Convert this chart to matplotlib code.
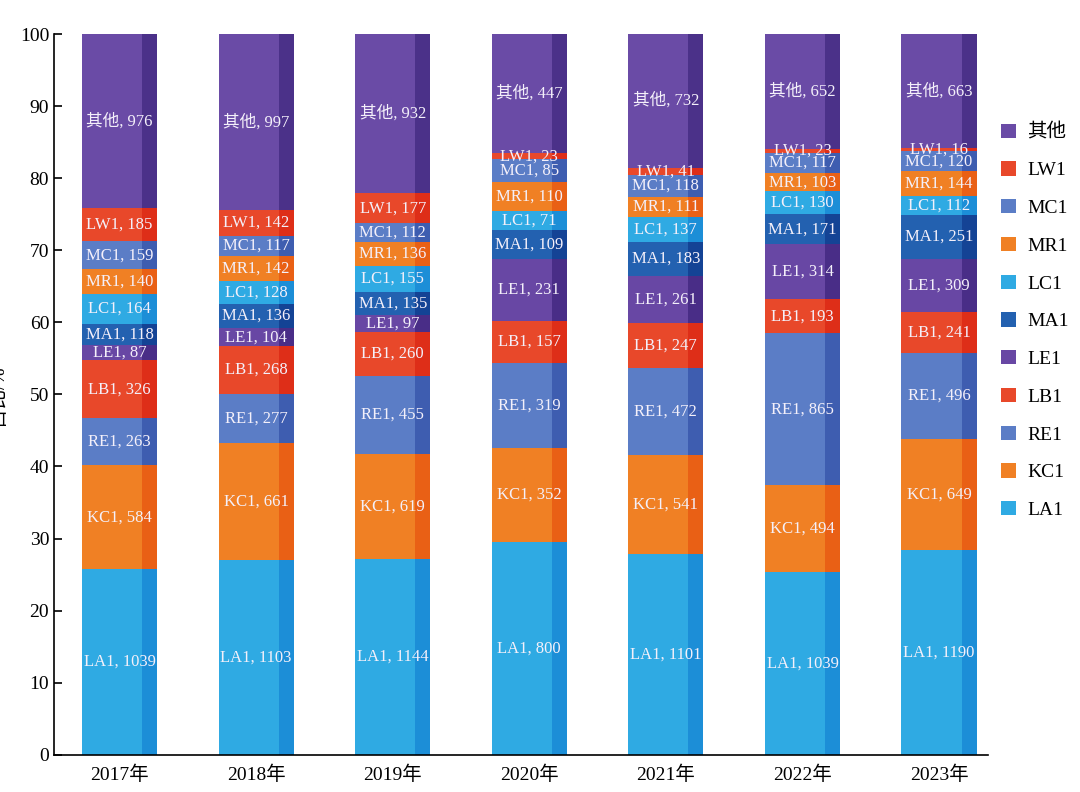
import matplotlib.pyplot as plt
import matplotlib.colors as mcolors
import numpy as np

plt.rcParams['font.family'] = ['Liberation Serif', 'Noto Sans CJK SC']

years = ['2017年', '2018年', '2019年', '2020年', '2021年', '2022年', '2023年']
cats = ['LA1', 'KC1', 'RE1', 'LB1', 'LE1', 'MA1', 'LC1', 'MR1', 'MC1', 'LW1', '其他']

LA1 = [1039, 1103, 1144, 800, 1101, 1039, 1190]
KC1 = [584, 661, 619, 352, 541, 494, 649]
RE1 = [263, 277, 455, 319, 472, 865, 496]
LB1 = [326, 268, 260, 157, 247, 193, 241]
LE1 = [87, 104, 97, 231, 261, 314, 309]
MA1 = [118, 136, 135, 109, 183, 171, 251]
LC1 = [164, 128, 155, 71, 137, 130, 112]
MR1 = [140, 142, 136, 110, 111, 103, 144]
MC1 = [159, 117, 112, 85, 118, 117, 120]
LW1 = [185, 142, 177, 23, 41, 23, 16]
other = [976, 997, 932, 447, 732, 652, 663]

counts = np.array([LA1, KC1, RE1, LB1, LE1, MA1, LC1, MR1, MC1, LW1, other], dtype=float)
colors = ['#2FAAE3', '#F08024', '#5B7DC6', '#E8482A', '#6847A4', '#2361B0',
          '#2FAAE3', '#F08024', '#5B7DC6', '#E8482A', '#6A4BA6']

pct = counts / counts.sum(axis=0) * 100

fig, ax = plt.subplots(figsize=(10.8, 7.92), dpi=100)
fig.subplots_adjust(left=0.05, right=0.915, top=0.957, bottom=0.047)

x = np.arange(len(years))
w = 0.55
strip = 0.2 * w
bottom = np.zeros(len(years))
for i, cat in enumerate(cats):
    ax.bar(x, pct[i], w, bottom=bottom, color=colors[i], label=cat, linewidth=0)
    # right-hand strip: half multiply-blend of the colour with itself
    rgb = np.array(mcolors.to_rgb(colors[i]))
    dark = tuple(0.5 * rgb + 0.5 * rgb * rgb)
    ax.bar(x + w / 2 - strip / 2, pct[i], strip, bottom=bottom, color=dark, linewidth=0)
    for j in range(len(years)):
        ax.text(x[j], bottom[j] + pct[i][j] / 2, f'{cat}, {int(counts[i][j])}',
                ha='center', va='center', color='#F4F0FA', fontsize=12)
    bottom += pct[i]

ax.set_ylim(0, 100)
ax.set_xlim(-0.48, 6.36)
ax.set_yticks(range(0, 101, 10))
ax.set_xticks(x)
ax.set_xticklabels(years, fontsize=14)
ax.tick_params(axis='y', direction='in', length=6, labelsize=14, width=1.2)
ax.tick_params(axis='x', length=0, pad=8)
ax.spines['top'].set_visible(False)
ax.spines['right'].set_visible(False)
ax.spines['left'].set_linewidth(1.2)
ax.spines['bottom'].set_linewidth(1.2)
ax.set_ylabel('占比/%', fontsize=14, labelpad=10)

handles, labels = ax.get_legend_handles_labels()
ax.legend(handles[::-1], labels[::-1], loc='upper left', bbox_to_anchor=(0.995, 0.9),
          frameon=False, fontsize=14, handlelength=0.75, handleheight=0.75,
          labelspacing=1.02, handletextpad=0.6)

fig.savefig('out.png')
